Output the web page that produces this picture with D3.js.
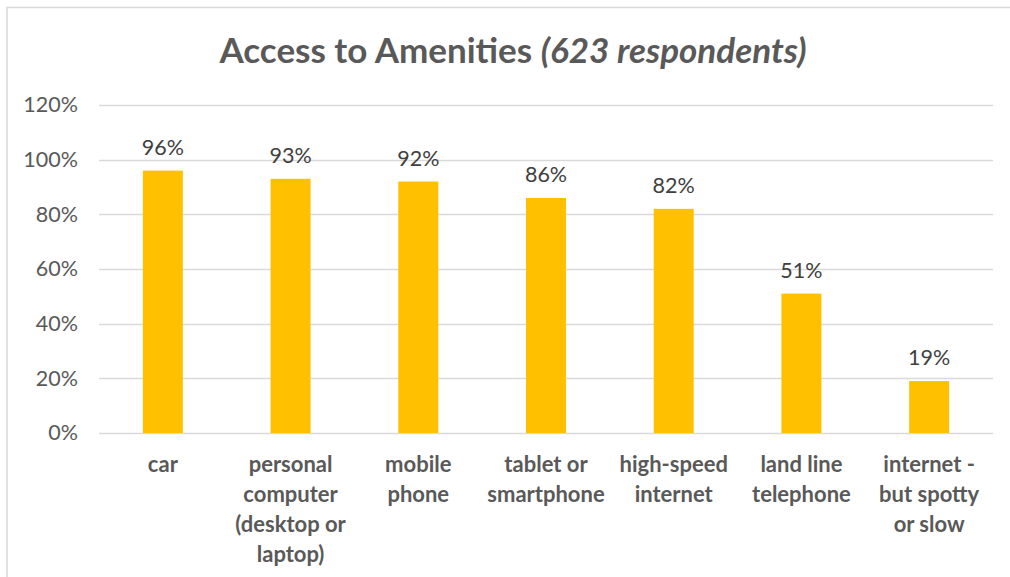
<!DOCTYPE html>
<html>
<head>
<meta charset="utf-8">
<script src="https://cdn.jsdelivr.net/npm/d3@7"></script>
<style>
  html, body { margin: 0; padding: 0; background: #fff; }
  svg { display: block; }
  text { font-family: Lato, "Open Sans", sans-serif; }
</style>
</head>
<body>
<svg id="chart" width="1010" height="577"></svg>
<script>
// Share of respondents with access to each amenity
const categories = [
  ["car"],
  ["personal", "computer", "(desktop or", "laptop)"],
  ["mobile", "phone"],
  ["tablet or", "smartphone"],
  ["high-speed", "internet"],
  ["land line", "telephone"],
  ["internet -", "but spotty", "or slow"]
];
const values = [0.96, 0.93, 0.92, 0.86, 0.82, 0.51, 0.19];
const yTicks = [0, 0.2, 0.4, 0.6, 0.8, 1.0, 1.2];

const svg = d3.select("#chart");
const W = 1010, H = 577;
const margin = { left: 99, right: 17, top: 105, bottom: 144 };

// Outer frame
svg.append("path")
  .attr("d", `M7,${H} V7.5 H${W}`)
  .attr("fill", "none")
  .attr("stroke", "#d9d9d9")
  .attr("stroke-width", 1.5);

// Title
const title = svg.append("text")
  .attr("x", 513).attr("y", 63)
  .attr("text-anchor", "middle")
  .attr("fill", "#595959")
  .style("font-size", "35px")
  .style("font-weight", "bold");
title.append("tspan").text("Access to Amenities ");
title.append("tspan").style("font-style", "italic").text("(623 respondents)");

const x = d3.scaleBand()
  .domain(d3.range(categories.length))
  .range([margin.left, W - margin.right])
  .paddingInner(0.687)
  .paddingOuter(0.3435);

const y = d3.scaleLinear()
  .domain([0, 1.2])
  .range([H - margin.bottom, margin.top]);

// Gridlines
svg.append("g")
  .selectAll("line")
  .data(yTicks)
  .join("line")
  .attr("x1", margin.left).attr("x2", W - margin.right)
  .attr("y1", d => Math.round(y(d)) + 0.5)
  .attr("y2", d => Math.round(y(d)) + 0.5)
  .attr("stroke", "#d9d9d9")
  .attr("stroke-width", 1.5);

// Y axis labels
const yAxis = d3.axisLeft(y)
  .tickValues(yTicks)
  .tickFormat(d3.format(".0%"))
  .tickSize(0)
  .tickPadding(0);
const yg = svg.append("g")
  .attr("transform", "translate(78,0)")
  .call(yAxis);
yg.select(".domain").remove();
yg.selectAll("text")
  .attr("fill", "#595959")
  .style("font-size", "21.5px")
  .style("font-family", "Lato, 'Open Sans', sans-serif");

// Bars
svg.append("g")
  .selectAll("rect")
  .data(values)
  .join("rect")
  .attr("x", (d, i) => x(i))
  .attr("width", x.bandwidth())
  .attr("y", d => y(d))
  .attr("height", d => y(0) - y(d))
  .attr("fill", "#ffc000");

// Value labels
svg.append("g")
  .selectAll("text")
  .data(values)
  .join("text")
  .attr("x", (d, i) => x(i) + x.bandwidth() / 2)
  .attr("y", d => y(d) - 16)
  .attr("text-anchor", "middle")
  .attr("fill", "#404040")
  .style("font-size", "21.5px")
  .text(d3.format(".0%"));

// Category labels
const cat = svg.append("g")
  .selectAll("text")
  .data(categories)
  .join("text")
  .attr("x", (d, i) => x(i) + x.bandwidth() / 2)
  .attr("y", 472)
  .attr("text-anchor", "middle")
  .attr("fill", "#595959")
  .style("font-size", "22px")
  .style("font-weight", "bold");
cat.selectAll("tspan")
  .data(d => d)
  .join("tspan")
  .attr("x", function () { return this.parentNode.getAttribute("x"); })
  .attr("dy", (d, j) => j === 0 ? 0 : 30)
  .text(d => d);
</script>
</body>
</html>
